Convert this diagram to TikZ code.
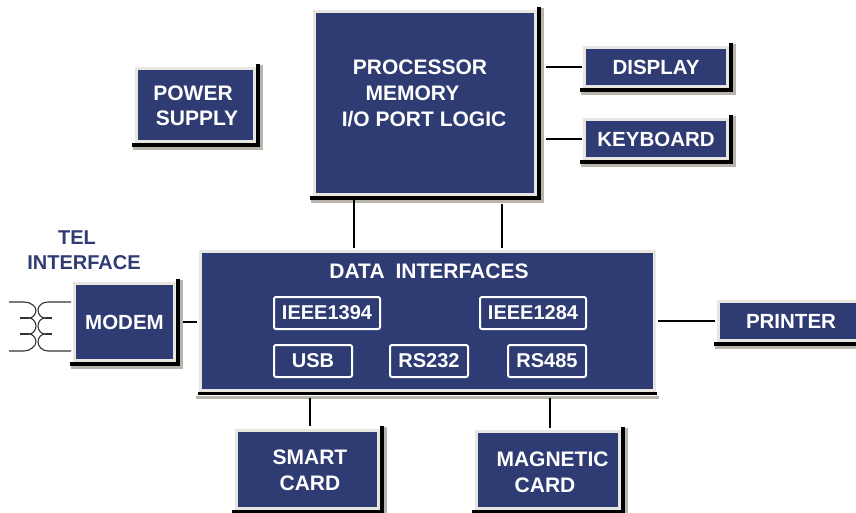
\documentclass[tikz,border=0pt]{standalone}
\usepackage{fontspec}
\setmainfont{Liberation Sans}
\definecolor{panelblue}{HTML}{2F3B73}
\definecolor{panelrim}{HTML}{E8E6E0}
\definecolor{panelshade}{HTML}{B8B4AC}
\tikzset{
  panel/.style={draw=panelrim, fill=panelblue, line width=3pt, inner sep=0pt, text=white,
    font=\fontsize{20.5}{25}\selectfont\bfseries, text depth=0pt},
  caption/.style={inner sep=0pt, text=white, text depth=0pt, font=\fontsize{21}{26}\selectfont\bfseries},
  port/.style={draw=white, line width=2pt, rounded corners=2pt, inner sep=0pt, text=white, text depth=0pt,
    minimum height=32pt, font=\fontsize{20}{24}\selectfont\bfseries},
  telcaption/.style={inner sep=0pt, text=panelblue, text depth=0pt, font=\fontsize{20}{25}\selectfont\bfseries},
  link/.style={line width=2.5pt, black},
  winding/.style={line width=1.1pt, black!80}
}
\begin{document}
\begin{tikzpicture}[x=1pt,y=-1pt]
    \clip[use as bounding box] (0,0) rectangle (856,512);

    % Main panels
    \node[panel, minimum width=221pt, minimum height=183pt] (cpu) at (425,103) {};
    \node[panel, minimum width=118pt, minimum height=73pt] (power) at (195.5,105) {};
    \node[panel, minimum width=143pt, minimum height=39pt] (display) at (656,67) {DISPLAY};
    \node[panel, minimum width=143pt, minimum height=39pt] (keyboard) at (656,139) {KEYBOARD};
    \node[panel, minimum width=100pt, minimum height=77pt] (modem) at (124.5,322) {MODEM};
    \node[panel, minimum width=454pt, minimum height=139pt] (data) at (427.5,321) {};
    \node[panel, minimum width=145pt, minimum height=39pt] (printer) at (791,321) {PRINTER};
    \node[panel, minimum width=142pt, minimum height=78pt] (smart) at (307.5,469.5) {};
    \node[panel, minimum width=143pt, minimum height=77pt] (magnetic) at (548,470) {};

    % Panel shadows
    \foreach \name in {cpu,power,display,keyboard,modem,smart,magnetic,printer}{
      \draw[panelshade, line width=3pt] ([shift={(5.5,-2)}]\name.north east) |- ([shift={(-2,5.5)}]\name.south west);
      \draw[black, line width=4pt] ([shift={(2,-3)}]\name.north east) |- ([shift={(-3,2)}]\name.south west);
    }
    \draw[panelshade, line width=3pt] ([shift={(-3,5.5)}]data.south west) -- ([shift={(3,5.5)}]data.south east);
    \draw[black, line width=3pt] ([shift={(-1,1.5)}]data.south west) -- ([shift={(1,1.5)}]data.south east);

    % Panel captions
    \node[caption] (cpua) at (420,67) {PROCESSOR};
    \node[caption] (cpub) at (412.5,93) {MEMORY};
    \node[caption] (cpuc) at (424,119) {I/O PORT LOGIC};
    \node[caption] (powera) at (193,93) {POWER};
    \node[caption] (powerb) at (197,118) {SUPPLY};
    \node[caption] (dataa) at (429,271) {DATA\hspace{5pt} INTERFACES};
    \node[caption] (smarta) at (310,457) {SMART};
    \node[caption] (smartb) at (310,483) {CARD};
    \node[caption] (magnetica) at (552.5,459) {MAGNETIC};
    \node[caption] (magneticb) at (545,485) {CARD};
    \node[telcaption] (tela) at (77,238) {TEL};
    \node[telcaption] (telb) at (84,263) {INTERFACE};

    % Ports
    \node[port, minimum width=106pt] (ieeea) at (327,313) {IEEE1394};
    \node[port, minimum width=106pt] (ieeeb) at (533,313) {IEEE1284};
    \node[port, minimum width=78pt] (usb) at (313,361) {USB};
    \node[port, minimum width=78pt] (rsa) at (429,361) {RS232};
    \node[port, minimum width=78pt] (rsb) at (547,361) {RS485};

    % Links
    \coordinate (busa) at (354,0);
    \coordinate (busb) at (502,0);
    \coordinate (busc) at (310,0);
    \coordinate (busd) at (550,0);
    \draw[link, shorten <=3pt, shorten >=2pt] (cpu.south -| busa) -- (data.north -| busa);
    \draw[link, shorten <=8pt, shorten >=2pt] (cpu.south -| busb) -- (data.north -| busb);
    \draw[link, shorten <=9pt, shorten >=1pt] (cpu.east |- display) -- (display.west);
    \draw[link, shorten <=9pt, shorten >=1pt] (cpu.east |- keyboard) -- (keyboard.west);
    \draw[link, shorten <=7pt, shorten >=2pt] (modem.east) -- (data.west |- modem);
    \draw[link, shorten <=2pt, shorten >=2pt] (data.east) -- (printer.west);
    \draw[link, shorten <=6pt, shorten >=3pt] (data.south -| busc) -- (smart.north -| busc);
    \draw[link, shorten <=6pt, shorten >=2pt] (data.south -| busd) -- (magnetic.north -| busd);

    % Transformer
    \draw[winding] (9,302) -- (24,302) .. controls (30,302) and (36,306) .. (36,310) .. controls (36,314) and (33,318) .. (29,318)
      .. controls (33,318) and (36,322) .. (36,326) .. controls (36,330) and (33,334) .. (29,334)
      .. controls (33,334) and (36,338) .. (36,342) .. controls (36,346) and (30,351) .. (24,351) -- (9,351);
    \draw[winding] (71,302) -- (48,302) .. controls (42,302) and (38,306) .. (38,310) .. controls (38,314) and (41,318) .. (45,318)
      .. controls (41,318) and (38,322) .. (38,326) .. controls (38,330) and (41,334) .. (45,334)
      .. controls (41,334) and (38,338) .. (38,342) .. controls (38,346) and (42,351) .. (48,351) -- (71,351);
    \foreach \y in {318,334}{
      \draw[winding] (20,\y) -- (29,\y);
      \draw[winding] (45,\y) -- (52,\y);
    }
\end{tikzpicture}
\end{document}
